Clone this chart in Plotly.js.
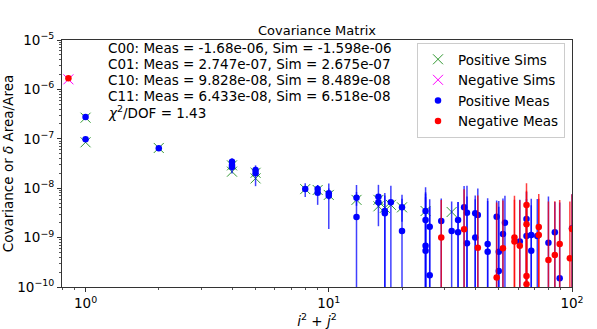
<!DOCTYPE html>
<html>
<head>
<meta charset="utf-8">
<script src="https://cdn.plot.ly/plotly-3.0.1.min.js"></script>
<style>html,body{margin:0;padding:0;background:#fff;}#chart{width:597px;height:329px;}</style>
</head>
<body>
<div id="chart"></div>
<script>
// ---- data ----
const posMeasX = [1, 1, 2, 4, 4, 4, 5, 5, 8, 9, 9, 10, 10, 13, 13, 16, 16, 17, 17, 18, 20, 20,
  25, 25, 25, 25, 26, 26, 29, 32, 34, 34, 36, 37, 37, 40, 40, 41, 45, 45, 49, 50, 50, 52, 53,
  61, 65, 65, 68, 68, 72, 80, 85, 89, 100];
const posMeasY = [2.747e-7, 9.828e-8, 6.433e-8, 3.44e-8, 2.95e-8, 2.69e-8, 2.34e-8, 2.00e-8, 9.6e-9, 9.6e-9, 8.1e-9, 7.9e-9, 7.0e-9,
  6.4e-9, 2.6e-9, 6.7e-9, 5.2e-9, 3.45e-9, 3.1e-9, 5.2e-9, 4.1e-9, 1.36e-9,
  3.45e-9, 2.27e-9, 6.85e-10, 5.4e-10, 1.66e-9, 1.73e-10, 2.17e-9, 1.36e-9, 2.27e-9, 1.28e-9, 4.1e-9, 3.19e-9, 7.7e-10,
  3.1e-9, 1.0e-9, 2.86e-9, 7.4e-10, 5.2e-10, 2.65e-9, 5.2e-10, 2.1e-10, 1.18e-9, 2.0e-9,
  8.3e-10, 2.38e-9, 1.08e-9, 1.13e-9, 5.4e-10, 1.08e-9, 7.9e-10, 1.28e-9, 1.5e-10, 1.54e-9];
const posMeasErr = [6e-9, 4e-9, 3e-9, 6e-9, 3e-9, 7e-9, 4e-9, 9e-9, 3e-9, 2e-9, 3.5e-9, 2e-9, 5.5e-9,
  2e-9, 9e-9, 5e-9, 1e-9, 4.5e-9, 4e-9, 6e-9, 2e-9, 6e-9,
  7e-9, 6e-9, 7e-9, 6e-9, 4.3e-9, 4e-9, 4e-9, 4e-9, 3e-9, 4e-9, 7e-9, 8e-9, 6e-9,
  4e-9, 5e-9, 7e-9, 5.5e-9, 5e-9, 3e-9, 5e-9, 4e-9, 5e-9, 5e-9,
  5e-9, 6e-9, 5e-9, 5e-9, 4e-9, 5e-9, 6e-9, 4e-9, 5e-9, 6e-9];

const negMeasX = [0.85, 29, 36, 41, 49, 52, 58, 58, 61, 65, 65, 65, 65, 73, 73, 80, 85, 89, 98, 100];
const negMeasY = [1.68e-6, 1.0e-9, 1.47e-9, 6.25e-10, 1.55e-10, 6.1e-10, 1.0e-9, 8.3e-10, 6.8e-10,
  4.57e-9, 1.86e-9, 1.67e-10, 1.14e-10, 1.64e-9, 1.13e-9, 3.5e-10, 4.45e-10, 7.4e-10, 3.8e-10, 1.5e-9];
const negMeasErr = [2e-8, 4.8e-9, 8e-9, 6.5e-9, 5e-9, 5e-9, 6e-9, 5e-9, 5e-9,
  8e-9, 7e-9, 5e-9, 5e-9, 6e-9, 5e-9, 5e-9, 5e-9, 5e-9, 5e-9, 6e-9];

const posSimX = [1, 1, 2, 4, 4, 5, 5, 8, 9, 10, 13, 16, 16, 17, 18, 20, 25, 32];
const posSimY = [2.675e-7, 8.489e-8, 6.518e-8, 2.9e-8, 2.16e-8, 2.05e-8, 1.58e-8, 9.6e-9, 9.2e-9, 7.3e-9,
  5.8e-9, 5.8e-9, 4.3e-9, 4.0e-9, 4.6e-9, 4.1e-9, 3.45e-9, 3.3e-9];

const negSimX = [0.85];
const negSimY = [1.598e-6];

const infoLines = [
  'C00: Meas = -1.68e-06, Sim = -1.598e-06',
  'C01: Meas = 2.747e-07, Sim = 2.675e-07',
  'C10: Meas = 9.828e-08, Sim = 8.489e-08',
  'C11: Meas = 6.433e-08, Sim = 6.518e-08',
  '<i>χ</i><sup>2</sup>/DOF = 1.43'
];

const xTickVals = [1, 10, 100];
const xTickText = ['10<sup>0</sup>', '10<sup>1</sup>', '10<sup>2</sup>'];
const yTickVals = [1e-10, 1e-9, 1e-8, 1e-7, 1e-6, 1e-5];
const yTickText = ['10<sup>−10</sup>', '10<sup>−9</sup>', '10<sup>−8</sup>', '10<sup>−7</sup>', '10<sup>−6</sup>', '10<sup>−5</sup>'];

// ---- minor tick positions ----
function minorLog(lo, hi) {
  const out = [];
  for (let e = lo; e <= hi; e++) for (let m = 2; m <= 9; m++) out.push(m * Math.pow(10, e));
  return out;
}

const FONT = 'DejaVu Sans, Liberation Sans, sans-serif';

const traces = [
  { x: posSimX, y: posSimY, type: 'scatter', mode: 'markers', name: 'Positive Sims',
    marker: { symbol: 'x-thin', size: 10, color: 'rgba(0,128,0,0.8)', line: { color: 'rgba(0,128,0,0.8)', width: 1 } } },
  { x: negSimX, y: negSimY, type: 'scatter', mode: 'markers', name: 'Negative Sims',
    marker: { symbol: 'x-thin', size: 10, color: 'rgb(255,0,255)', line: { color: 'rgb(255,0,255)', width: 1 } } },
  { x: posMeasX, y: posMeasY, type: 'scatter', mode: 'markers', name: 'Positive Meas',
    marker: { symbol: 'circle', size: 6.5, color: 'rgb(0,0,255)' },
    error_y: { type: 'data', array: posMeasErr, visible: true, color: 'rgba(0,0,255,0.75)', thickness: 1.5, width: 0 } },
  { x: negMeasX, y: negMeasY, type: 'scatter', mode: 'markers', name: 'Negative Meas',
    marker: { symbol: 'circle', size: 6.5, color: 'rgb(255,0,0)' },
    error_y: { type: 'data', array: negMeasErr, visible: true, color: 'rgba(255,0,0,0.75)', thickness: 1.5, width: 0 } }
];

const L = 62, R = 572, T = 40, B = 287;
const W = 597, H = 329;
function py(p) { return 1 - (p - T) / (B - T); }
const lineY = [48, 64, 80, 95.5, 112];
const annotations = infoLines.map((t, i) => ({
  text: t, xref: 'paper', yref: 'paper', x: (106 - L) / (R - L), y: py(lineY[i]),
  xanchor: 'left', yanchor: 'middle', showarrow: false, font: { family: FONT, size: 13.5, color: '#000' }
}));

const layout = {
  width: W, height: H,
  margin: { l: L, r: W - R, t: T, b: H - B, pad: 0 },
  paper_bgcolor: '#fff', plot_bgcolor: '#fff',
  font: { family: FONT, size: 13, color: '#000' },
  title: { text: 'Covariance Matrix', font: { family: FONT, size: 13, color: '#000' }, x: 0.5, xref: 'paper', xanchor: 'center', y: 1 - 30 / H, yanchor: 'middle' },
  showlegend: true,
  legend: { x: (565 - L) / (R - L), y: py(43), xanchor: 'right', yanchor: 'top', bgcolor: 'rgba(255,255,255,0.9)', bordercolor: '#ccc', borderwidth: 1,
    font: { family: FONT, size: 13.5, color: '#000' } },
  xaxis: {
    type: 'log', range: [Math.log10(0.8), 2.0], showgrid: false, zeroline: false,
    showline: true, mirror: true, linecolor: '#333', linewidth: 1,
    ticks: 'outside', ticklen: 4, tickcolor: '#333', tickmode: 'array', tickvals: xTickVals, ticktext: xTickText,
    tickfont: { family: FONT, size: 13.5, color: '#000' },
    minor: { ticks: 'outside', ticklen: 2, tickcolor: '#555', tickmode: 'array', tickvals: minorLog(-1, 1).filter(v => v >= 0.8) },
    title: { text: '<i>i</i><sup>2</sup> + <i>j</i><sup>2</sup>', font: { family: FONT, size: 13.5, color: '#000' }, standoff: 8 }
  },
  yaxis: {
    type: 'log', range: [-10, -5], showgrid: false, zeroline: false,
    showline: true, mirror: true, linecolor: '#333', linewidth: 1,
    ticks: 'outside', ticklen: 4, tickcolor: '#333', tickmode: 'array', tickvals: yTickVals, ticktext: yTickText,
    tickfont: { family: FONT, size: 13.5, color: '#000' },
    minor: { ticks: 'outside', ticklen: 2, tickcolor: '#555', tickmode: 'array', tickvals: minorLog(-10, -6) },
    title: { text: 'Covariance or <i>δ</i> Area/Area', font: { family: FONT, size: 13.5, color: '#000' }, standoff: 0 }
  },
  annotations: annotations
};

Plotly.newPlot('chart', traces, layout, { displayModeBar: false, staticPlot: true });
</script>
</body>
</html>
